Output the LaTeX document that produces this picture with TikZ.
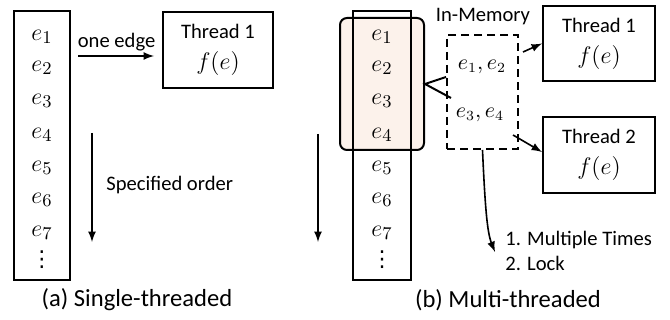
\documentclass[tikz,border=0pt]{standalone}
\usepackage{fontspec}
\setmainfont{Carlito}
\newfontfamily\dotsfont{DejaVu Sans}
\usetikzlibrary{positioning}
\definecolor{memfill}{RGB}{252,242,235}
\newcommand{\fe}{{\fontsize{12.5}{13}\selectfont$f(e)$}}
\tikzset{
  txt/.style={font=\fontsize{10.3}{12.5}\selectfont, inner sep=1pt},
  captxt/.style={font=\fontsize{12.3}{14}\selectfont},
  elem/.style={font=\fontsize{13}{14}\selectfont, inner sep=0pt},
  pair/.style={font=\fontsize{10.5}{12}\selectfont, inner sep=0pt},
  vdotsnode/.style={font=\dotsfont\fontsize{11}{12}\selectfont, inner sep=0pt},
  colbox/.style={draw, line width=1.2pt, minimum width=28pt, minimum height=134.5pt, inner sep=0pt},
  thrbox/.style={draw, line width=1pt, align=center, txt, minimum width=55pt, minimum height=38pt},
  hlbox/.style={draw, line width=1pt, fill=memfill, rounded corners=3.5pt, minimum width=42pt, minimum height=66pt},
  membox/.style={draw, line width=1pt, dash pattern=on 4pt off 2.5pt, minimum width=35.5pt, minimum height=57pt},
  flow/.style={->, line width=0.8pt}
}
\begin{document}
\begin{tikzpicture}[x=0.5pt, y=-0.5pt, >=latex]
\useasboundingbox (0,0) rectangle (670,320);
  % (a) single-threaded
  \node[colbox] (colA) at (42,145.5) {};
  \foreach \i/\y in {1/37,2/68,3/101,4/135,5/168,6/200,7/233}
    \node[elem] (a\i) at (42,\y) {$e_{\i}$};
  \node[vdotsnode] (aDots) at (42,260) {⋮};
  \node[thrbox] (thrA) at (218,50) {Thread 1\\[3pt]\fe};
  \draw[flow, shorten <=3.5pt, shorten >=4pt] (colA.east |- 0,56) -- (thrA.west |- 0,56)
  node[midway, above=1pt, txt]{one edge}
  ; % colA -> thrA
  \coordinate (ordAS) at (92,133);
  \coordinate (ordAE) at (92,242);
  \draw[flow] (ordAS) -- (ordAE); % order arrow
  \node[txt, anchor=west] (ordA) at (104,185) {Specified order};
  \node[captxt] (capA) at (137,300) {(a) Single-threaded};

  % (b) multi-threaded
  \node[hlbox] (hl) at (382,84) {};
  \node[colbox, minimum width=29pt] (colB) at (382,145.5) {};
  \foreach \i/\y in {1/37,2/68,3/101,4/135,5/168,6/200,7/233}
    \node[elem] (b\i) at (382,\y) {$e_{\i}$};
  \node[vdotsnode] (bDots) at (382,260) {⋮};
  \coordinate (ordBS) at (318,134);
  \coordinate (ordBE) at (318,242);
  \draw[flow] (ordBS) -- (ordBE); % order arrow
  \node[membox] (mem) at (482.5,92) {};
  \node[txt] (memLbl) at (483,17) {In-Memory};
  \node[pair] (p12) at (482,67) {$e_1, e_2$};
  \node[pair] (p34) at (480,115) {$e_3, e_4$};
  \node[thrbox, minimum width=56pt, minimum height=37.5pt] (thrB1) at (599,43.5) {Thread 1\\[3pt]\fe};
  \node[thrbox, minimum width=56pt] (thrB2) at (599,155) {Thread 2\\[3pt]\fe};
  \draw[line width=1pt] ([yshift=7.5pt]mem.west) -- (hl.east) -- ([shift={(2.5pt,-3pt)}]mem.west); % mem -- hl
  \draw[flow] ([shift={(2pt,20pt)}]mem.east) -- (thrB1.west); % mem -> thrB1
  \draw[flow] ([shift={(-3pt,-21.5pt)}]mem.east) -- ([yshift=1.5pt]thrB2.west); % mem -> thrB2
  \coordinate (lockTip) at (495,252);
  \draw[flow] (mem.south) .. controls (485,205) and (487,232) .. (lockTip); % mem -> notes
  \node[txt, anchor=west, align=left] (notes) at (503,250.5) {1. Multiple Times\\2. Lock};
  \node[captxt] (capB) at (508,300) {(b) Multi-threaded};
\end{tikzpicture}
\end{document}
